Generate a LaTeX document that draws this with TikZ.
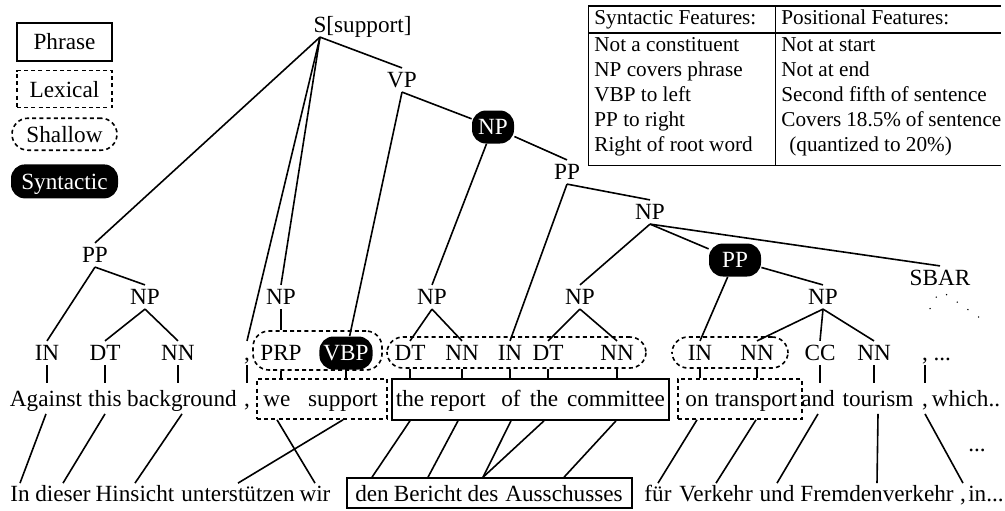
\documentclass[tikz,border=0pt]{standalone}
\usepackage{fontspec}
\setmainfont{Liberation Serif}
\usetikzlibrary{positioning,fit}
\setlength{\tabcolsep}{3pt}
\setlength{\arrayrulewidth}{0.8pt}

\tikzset{
  every node/.style={font=\fontsize{11.6}{14}\selectfont},
  cat/.style={inner sep=2pt, text height=7.7pt, text depth=0pt},
  synt/.style={cat, fill=black, text=white, rounded corners=7pt, inner xsep=2pt, inner ysep=4.4pt, minimum width=21pt},
  word/.style={inner sep=1pt, text height=8pt, text depth=2.5pt},
  phrase/.style={draw, thick, inner sep=0pt},
  lexical/.style={phrase, dash pattern=on 2pt off 1.6pt},
  shallow/.style={lexical, rounded corners=8pt},
  branch/.style={thick},
  tick/.style={thick, shorten >=2.5pt},
  dots/.style={thick, line cap=round, dash pattern=on 0pt off 6.5pt, shorten <=4pt}
}

\begin{document}
\begin{tikzpicture}[x=0.5pt, y=-0.5pt]
\useasboundingbox (0,0) rectangle (1005,510);

% legend
\node[phrase, minimum width=47.5pt, minimum height=19pt] (lg1) at (64.5,42) {Phrase};
\node[lexical, minimum width=47.5pt, minimum height=18.5pt, below=4pt of lg1] (lg2) {Lexical};
\node[shallow, minimum width=52.5pt, minimum height=16pt, below=4.5pt of lg2] (lg3) {Shallow};
\node[synt, minimum width=53.5pt, minimum height=17pt, below=6.5pt of lg3] (lg4) {Syntactic};

% features of the phrase
\node[anchor=north west, inner sep=0pt, font=\fontsize{10.6}{12.5}\selectfont] (feat) at (588,5) {%
\begin{tabular}{|p{87.5pt}|p{110pt}@{}}
\hline
Syntactic Features: & Positional Features:\\
\hline
Not a constituent & Not at start\\
NP covers phrase & Not at end\\
VBP to left & Second fifth of sentence\\
PP to right & Covers 18.5\% of sentence\\
Right of root word & \hspace{4pt}(quantized to 20\%)\\[3pt]
\hline
\end{tabular}};

% boxes
\node[shallow, fit={(253,331) (382,370)}] (sh1) {};
\node[shallow, fit={(387,337) (646,368)}] (sh2) {};
\node[shallow, fit={(672,337) (788,368)}] (sh3) {};
\node[lexical, fit={(257,379) (387,419)}] (lx1) {};
\node[lexical, fit={(678,379) (802,419)}] (lx2) {};
\node[phrase, fit={(392,379) (669,420)}] (ph1) {};
\node[phrase, fit={(347,478) (632,508)}] (ph2) {};

% phrase nodes
\node[cat] (s) at (320,25) {S\rlap{[support]}};
\node[cat] (vp) at (402,80) {VP};
\node[synt] (npx) at (493,127) {NP};
\node[cat] (pp1) at (567,172) {PP};
\node[cat] (np2) at (650,212) {NP};
\node[cat] (ppl) at (95,255) {PP};
\node[cat] (npl) at (145,297) {NP};
\node[cat] (npw) at (281,297) {NP};
\node[cat] (npa) at (432,297) {NP};
\node[cat] (npb) at (580,297) {NP};
\node[synt, minimum width=26pt] (ppx) at (735,260) {PP};
\node[cat] (np3) at (823,297) {NP};
\node[cat] (sbar) at (940,278) {SBAR};

% tags
\node[cat] (in1) at (47,353) {IN};
\node[cat] (dt1) at (105,353) {DT};
\node[cat] (nn1) at (178,353) {NN};
\node[cat] (cm1) at (247,353) {,};
\node[cat] (prp) at (281,353) {PRP};
\node[synt] (vbp) at (346,353) {VBP};
\node[cat] (dt2) at (410,353) {DT};
\node[cat] (nn2) at (462,353) {NN};
\node[cat] (in2) at (510,353) {IN};
\node[cat] (dt3) at (548,353) {DT};
\node[cat] (nn3) at (617,353) {NN};
\node[cat] (in3) at (700,353) {IN};
\node[cat] (nn4) at (757,353) {NN};
\node[cat] (cc) at (820,353) {CC};
\node[cat] (nn5) at (874,353) {NN};
\node[cat] (cm2) at (936.5,353) {, ...};

% english words
\node[word] (e1) at (46,401) {Against};
\node[word] (e2) at (105,401) {this};
\node[word] (e3) at (182,401) {background};
\node[word] (e4) at (247,401) {,};
\node[word] (e5) at (277,401) {we};
\node[word] (e6) at (343,401) {support};
\node[word] (e7) at (410,401) {the};
\node[word] (e8) at (458,401) {report};
\node[word] (e9) at (511,401) {of};
\node[word] (e10) at (544,401) {the};
\node[word] (e11) at (616,401) {committee};
\node[word] (e12) at (697,401) {on};
\node[word] (e13) at (756,401) {transport};
\node[word] (e14) at (818,401) {and};
\node[word] (e15) at (878,401) {tourism};
\node[word] (e16) at (925,401) {,};
\node[word] (e17) at (966,401) {which..};
\node[word] (gap) at (977,446) {...};

% german words
\node[word] (g1) at (20,496) {In};
\node[word] (g2) at (63,496) {dieser};
\node[word] (g3) at (135,496) {Hinsicht};
\node[word] (g4) at (238,496) {unterstützen};
\node[word] (g5) at (315,496) {wir};
\node[word] (g6) at (372,496) {den};
\node[word] (g7) at (428,496) {Bericht};
\node[word] (g8) at (483,496) {des};
\node[word] (g9) at (564,496) {Ausschusses};
\node[word] (g10) at (658,496) {für};
\node[word] (g11) at (716,496) {Verkehr};
\node[word] (g12) at (777,496) {und};
\node[word] (g13) at (877,496) {Fremdenverkehr};
\node[word] (g14) at (963,496) {,};
\node[word] (g15) at (986,496) {in...};

% tree
\draw[branch] (s.south) -- (ppl.north);
\draw[branch] (s.south) -- (cm1.north);
\draw[branch] (s.south) -- (npw.north);
\draw[branch] (s.south) -- (vp.north);
\draw[branch] (vp.south) -- (vbp);
\draw[branch] (vp.south) -- (npx);
\draw[branch] (npx) -- (npa.north);
\draw[branch] (npx) -- (pp1.north);
\draw[branch] (pp1.south) -- (in2.north);
\draw[branch] (pp1.south) -- (np2.north);
\draw[branch] (np2.south) -- (npb.north);
\draw[branch] (np2.south) -- (ppx);
\draw[branch] (np2.south) -- (sbar.north);
\draw[branch] (ppx) -- (in3.north);
\draw[branch] (ppx) -- (np3.north);
\draw[branch] (np3.south) -- (nn4.north);
\draw[branch] (np3.south) -- (cc.north);
\draw[branch] (np3.south) -- (nn5.north);
\draw[branch] (ppl.south) -- (in1.north);
\draw[branch] (ppl.south) -- (npl.north);
\draw[branch] (npl.south) -- (dt1.north);
\draw[branch] (npl.south) -- (nn1.north);
\draw[branch] (npa.south) -- (dt2.north);
\draw[branch] (npa.south) -- (nn2.north);
\draw[branch] (npb.south) -- (dt3.north);
\draw[branch] (npb.south) -- (nn3.north);
\draw[branch] (npw.south) -- (npw.south |- sh1.north);
\coordinate (sbl) at (925,318);
\coordinate (sbr) at (980,318);
\draw[dots] (sbar.south) -- (sbl);
\draw[dots] (sbar.south) -- (sbr);

% tags to words
\draw[tick] (in1.south) -- (in1.south |- e1.north);
\draw[tick] (dt1.south) -- (dt1.south |- e2.north);
\draw[tick] (nn1.south) -- (nn1.south |- e3.north);
\draw[tick] (cm1.south) -- (cm1.south |- e4.north);
\draw[branch] (prp.south |- sh1.south) -- (prp.south |- lx1.north);
\draw[branch] (vbp.south |- sh1.south) -- (vbp.south |- lx1.north);
\draw[branch] (dt2.south |- sh2.south) -- (dt2.south |- ph1.north);
\draw[branch] (nn2.south |- sh2.south) -- (nn2.south |- ph1.north);
\draw[branch] (in2.south |- sh2.south) -- (in2.south |- ph1.north);
\draw[branch] (dt3.south |- sh2.south) -- (dt3.south |- ph1.north);
\draw[branch] (nn3.south |- sh2.south) -- (nn3.south |- ph1.north);
\draw[branch] (in3.south |- sh3.south) -- (in3.south |- lx2.north);
\draw[branch] (nn4.south |- sh3.south) -- (nn4.south |- lx2.north);
\draw[tick] (cc.south) -- (cc.south |- e14.north);
\draw[tick] (nn5.south) -- (nn5.south |- e15.north);
\draw[tick] (e16.north |- cm2.south) -- (e16.north);

% alignment
\draw[branch] (e1.south) -- (g1.north);
\draw[branch] (e2.south) -- (g2.north);
\draw[branch] (e3.south) -- (g3.north);
\draw[branch] (e5.south |- lx1.south) -- (g5.north);
\draw[branch] (e6.south |- lx1.south) -- (g4.north);
\draw[branch] (e7.south |- ph1.south) -- (g6.north |- ph2.north);
\draw[branch] (e8.south |- ph1.south) -- (g7.north |- ph2.north);
\draw[branch] (e9.south |- ph1.south) -- (g8.north |- ph2.north);
\draw[branch] (e10.south |- ph1.south) -- (g8.north |- ph2.north);
\draw[branch] (e11.south |- ph1.south) -- (g9.north |- ph2.north);
\draw[branch] (e12.south |- lx2.south) -- (g10.north);
\draw[branch] (e13.south |- lx2.south) -- (g11.north);
\draw[branch] (e14.south) -- (g12.north);
\draw[branch] (e15.south) -- (g13.north);
\draw[branch] (e16.south) -- (g14.north);

\end{tikzpicture}
\end{document}
